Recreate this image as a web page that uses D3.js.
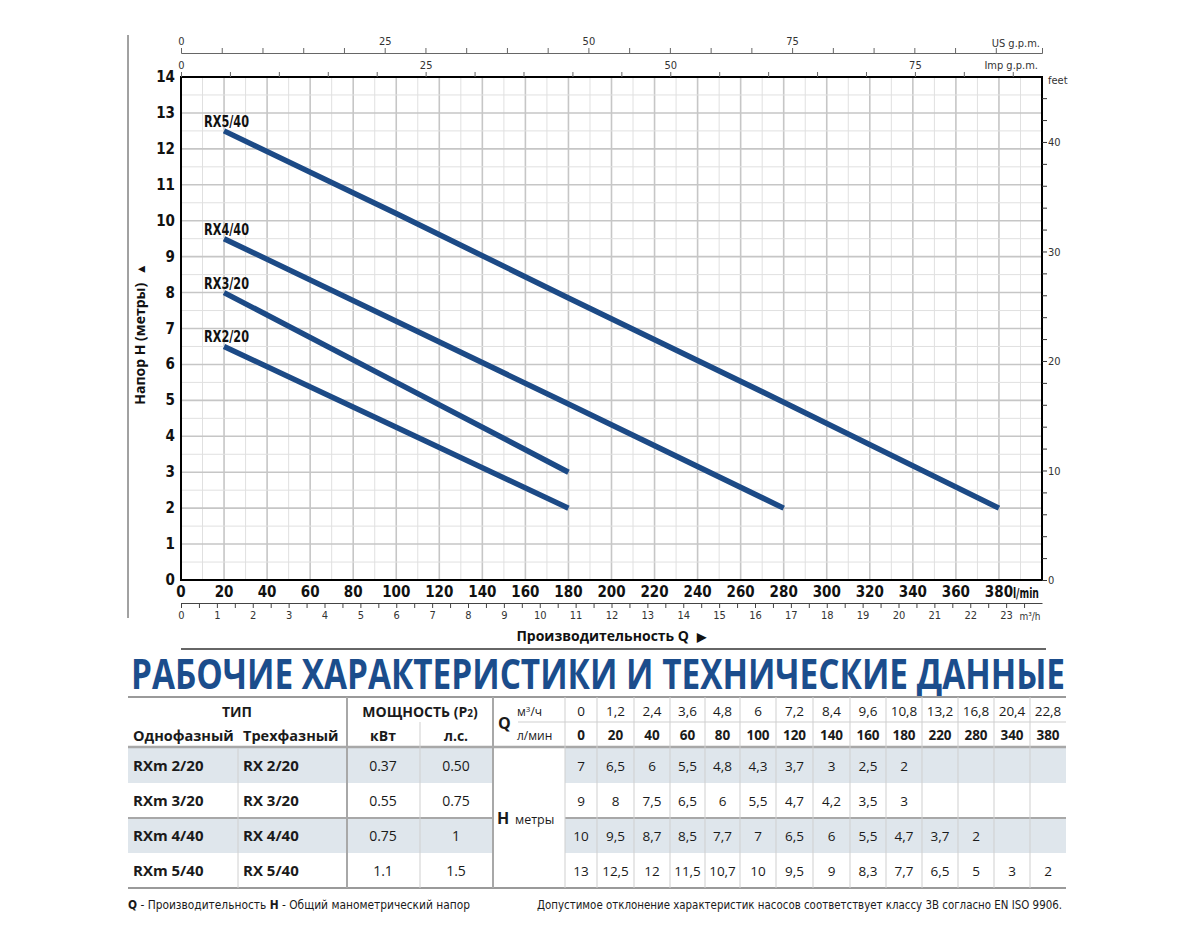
<!DOCTYPE html>
<html><head><meta charset="utf-8">
<script src="https://cdn.jsdelivr.net/npm/d3@7"></script>
<style>
body{margin:0;background:#fff;}
svg{display:block;}
</style></head>
<body>
<script>
// ---------- DATA ----------
// table
const qLmin = [0,20,40,60,80,100,120,140,160,180,220,280,340,380];
const qM3 = ["0","1,2","2,4","3,6","4,8","6","7,2","8,4","9,6","10,8","13,2","16,8","20,4","22,8"];
const models = ["RX2/20","RX3/20","RX4/40","RX5/40"];
const singlePhase = ["RXm 2/20","RXm 3/20","RXm 4/40","RXm 5/40"];
const threePhase = ["RX 2/20","RX 3/20","RX 4/40","RX 5/40"];
const powerKw = ["0.37","0.55","0.75","1.1"];
const powerHp = ["0.50","0.75","1","1.5"];
const headRX2_20 = [7,6.5,6,5.5,4.8,4.3,3.7,3,2.5,2,null,null,null,null];
const headRX3_20 = [9,8,7.5,6.5,6,5.5,4.7,4.2,3.5,3,null,null,null,null];
const headRX4_40 = [10,9.5,8.7,8.5,7.7,7,6.5,6,5.5,4.7,3.7,2,null,null];
const headRX5_40 = [13,12.5,12,11.5,10.7,10,9.5,9,8.3,7.7,6.5,5,3,2];
const tableHeads = [headRX2_20, headRX3_20, headRX4_40, headRX5_40];
// curves (Q l/min, H m)
const curveQ_RX2_20 = [20,100,180];
const curveH_RX2_20 = [6.5,4.25,2];
const curveQ_RX3_20 = [20,100,180];
const curveH_RX3_20 = [8,5.5,3];
const curveQ_RX4_40 = [20,100,180,280];
const curveH_RX4_40 = [9.5,7.2,4.9,2];
const curveQ_RX5_40 = [20,100,180,280,380];
const curveH_RX5_40 = [12.5,10.2,7.85,4.95,2];
const curvesQ = [curveQ_RX2_20,curveQ_RX3_20,curveQ_RX4_40,curveQ_RX5_40];
const curvesH = [curveH_RX2_20,curveH_RX3_20,curveH_RX4_40,curveH_RX5_40];
// axis ticks
const yTicks = d3.range(0,15,1);
const xTicksLmin = d3.range(0,381,20);
const m3hTicks = d3.range(0,24,1);
const feetTicks = [0,10,20,30,40];
const usTickLabels = [0,25,50,75];
const impTickLabels = [0,25,50,75];

// ---------- LAYOUT ----------
const W=1200,H=950;
const L=181,R=1042,T=77,B=580;
const svg=d3.select("body").append("svg").attr("width",W).attr("height",H);
const x=d3.scaleLinear().domain([0,400]).range([L,R]);
const y=d3.scaleLinear().domain([0,14]).range([B,T]);
const NAR='"Liberation Sans Narrow","Arial Narrow","DejaVu Sans Condensed",sans-serif';
const OS='"Open Sans","Noto Sans",sans-serif';

// decorative left rule
svg.append("line").attr("x1",128).attr("x2",128).attr("y1",35).attr("y2",618).attr("stroke","#444").attr("stroke-width",1);

// grid
const g=svg.append("g");
d3.range(10,400,10).forEach(v=>{
  g.append("line").attr("x1",x(v)).attr("x2",x(v)).attr("y1",T).attr("y2",B)
   .attr("stroke",v%20===0?"#c6c6c6":"#e0e0e0").attr("stroke-width",v%20===0?1.6:1);
});
d3.range(0.5,14,0.5).forEach(v=>{
  const major=Math.abs(v-Math.round(v))<1e-9;
  g.append("line").attr("x1",L).attr("x2",R).attr("y1",y(v)).attr("y2",y(v))
   .attr("stroke",major?"#c6c6c6":"#e0e0e0").attr("stroke-width",major?1.6:1);
});

// curves
const line=d3.line().x(d=>x(d.q)).y(d=>y(d.h));
curvesQ.forEach((qs,i)=>{
  const pts=qs.map((q,j)=>({q:q,h:curvesH[i][j]}));
  svg.append("path").datum(pts).attr("d",line).attr("fill","none")
    .attr("stroke","#1c4a86").attr("stroke-width",5.5);
  svg.append("text").attr("x",x(pts[0].q)-20).attr("y",y(pts[0].h)-4)
    .attr("font-family",NAR).attr("font-weight","bold").attr("font-size",15).attr("fill","#111")
    .attr("textLength",45).attr("lengthAdjust","spacingAndGlyphs")
    .text(models[i]);
});

// border
svg.append("rect").attr("x",L).attr("y",T).attr("width",R-L).attr("height",B-T)
  .attr("fill","none").attr("stroke","#000").attr("stroke-width",2);

// left y labels
yTicks.forEach(v=>{
  svg.append("text").attr("x",175).attr("y",y(v)+5).attr("text-anchor","end")
    .attr("font-family",NAR).attr("font-weight","bold").attr("font-size",15).attr("fill","#111").text(v);
});
// y title
svg.append("text").attr("transform","translate(145,334) rotate(-90)").attr("text-anchor","middle")
  .attr("font-family",OS).attr("font-weight","bold").attr("font-size",14).attr("fill","#111")
  .text("Напор H (метры) ").append("tspan").attr("font-size",12).attr("dx",4).text("▲");

// right feet axis
const yFeet=d3.scaleLinear().domain([0,14*3.28084]).range([B,T]);
const fAx=svg.append("g").attr("transform",`translate(${R},0)`)
  .call(d3.axisRight(yFeet).tickValues(d3.range(0,46,2)).tickSize(5)
    .tickFormat(d=>feetTicks.includes(d)?d:""));
fAx.select(".domain").remove();
fAx.selectAll("line").attr("stroke","#333");
fAx.selectAll("text").attr("font-family",NAR).attr("font-size",11).attr("fill","#333").attr("x",6);
svg.append("text").attr("x",1048).attr("y",84).attr("font-family",NAR).attr("font-size",11).attr("fill","#333").text("feet");

// bottom l/min labels
xTicksLmin.forEach(v=>{
  svg.append("text").attr("x",x(v)).attr("y",597).attr("text-anchor","middle")
    .attr("font-family",NAR).attr("font-weight","bold").attr("font-size",15).attr("fill","#111").text(v);
});
svg.append("text").attr("x",x(380)+14).attr("y",598)
  .attr("font-family",NAR).attr("font-weight","bold").attr("font-size",14).attr("fill","#111")
  .attr("textLength",26).attr("lengthAdjust","spacingAndGlyphs").text("l/min");

// m3/h axis
const xM3=d3.scaleLinear().domain([0,400*0.06]).range([L,R]);
const mAx=svg.append("g").attr("transform","translate(0,603)")
  .call(d3.axisBottom(xM3).tickValues(d3.range(0,24,0.5)).tickSize(5).tickSizeOuter(0)
    .tickFormat(d=>Number.isInteger(d)&&m3hTicks.includes(d)?d:""));
mAx.select(".domain").attr("stroke","#444");
mAx.selectAll("line").attr("stroke","#444");
mAx.selectAll("text").attr("font-family",NAR).attr("font-size",11).attr("fill","#333");
svg.append("text").attr("x",1030).attr("y",620).attr("text-anchor","middle")
  .attr("font-family",NAR).attr("font-size",10).attr("fill","#333").text("m³/h");

// top US g.p.m. axis
const xUS=d3.scaleLinear().domain([0,400/3.78541]).range([L,R]);
const uAx=svg.append("g").attr("transform","translate(0,53)")
  .call(d3.axisTop(xUS).tickValues(d3.range(0,101,5)).tickSize(5).tickSizeOuter(5)
    .tickFormat(d=>usTickLabels.includes(d)?d:""));
uAx.select(".domain").attr("stroke","#666");
uAx.selectAll("line").attr("stroke","#666");
uAx.selectAll("text").attr("font-family",NAR).attr("font-size",11).attr("fill","#333");
svg.append("text").attr("x",1040).attr("y",47).attr("text-anchor","end")
  .attr("font-family",NAR).attr("font-size",11).attr("fill","#333").text("US g.p.m.");

// top Imp g.p.m. axis
const xImp=d3.scaleLinear().domain([0,400/4.54609]).range([L,R]);
const iAx=svg.append("g").attr("transform",`translate(0,${T})`)
  .call(d3.axisTop(xImp).tickValues(d3.range(0,86,5)).tickSize(5)
    .tickFormat(d=>impTickLabels.includes(d)?d:""));
iAx.select(".domain").remove();
iAx.selectAll("line").attr("stroke","#666");
iAx.selectAll("text").attr("font-family",NAR).attr("font-size",11).attr("fill","#333");
svg.append("text").attr("x",1038).attr("y",69).attr("text-anchor","end")
  .attr("font-family",NAR).attr("font-size",11).attr("fill","#333").text("Imp g.p.m.");

// x title
svg.append("text").attr("x",611).attr("y",641).attr("text-anchor","middle")
  .attr("font-family",OS).attr("font-weight","bold").attr("font-size",14).attr("fill","#111")
  .text("Производительность Q ").append("tspan").attr("font-size",12).attr("dx",4).text("▶");
svg.append("line").attr("x1",181).attr("x2",1046).attr("y1",649).attr("y2",649).attr("stroke","#333").attr("stroke-width",1.5);

// big title
svg.append("text").attr("x",131).attr("y",689).attr("textLength",934).attr("lengthAdjust","spacingAndGlyphs")
  .attr("font-family",OS).attr("font-weight","bold").attr("font-size",42).attr("fill","#1b4d8c")
  .text("РАБОЧИЕ ХАРАКТЕРИСТИКИ И ТЕХНИЧЕСКИЕ ДАННЫЕ");

// ---------- TABLE ----------
const tL=128,tR=1066;
const colEdges=[565,597,634,670,705,740,776,813,850,886,922,958,994,1030,1066];
const rowTops=[748,783,818,853,888];
const tb=svg.append("g");
[0,2].forEach(r=>{
  tb.append("rect").attr("x",tL).attr("y",rowTops[r]).attr("width",493-tL).attr("height",35).attr("fill","#dfe6ec");
  tb.append("rect").attr("x",565).attr("y",rowTops[r]).attr("width",tR-565).attr("height",35).attr("fill","#dfe6ec");
});
function hl(x1,x2,yy,c,w){tb.append("line").attr("x1",x1).attr("x2",x2).attr("y1",yy).attr("y2",yy).attr("stroke",c).attr("stroke-width",w);}
function vl(xx,y1,y2,c,w){tb.append("line").attr("x1",xx).attr("x2",xx).attr("y1",y1).attr("y2",y2).attr("stroke",c).attr("stroke-width",w);}
hl(tL,tR,697,"#9a9a9a",2);
hl(tL,tR,747,"#a8a8a8",2.5);
hl(tL,tR,888,"#9a9a9a",2);
hl(tL,493,818,"#a8a8a8",2);
hl(565,tR,818,"#a8a8a8",2);
hl(518,tR,722,"#cfcfcf",1);
vl(238,748,888,"#d0d0d0",1);
vl(347,697,888,"#a8a8a8",2);
vl(420,722,888,"#cfcfcf",1);
vl(493,697,888,"#a8a8a8",2);
colEdges.slice(0,-1).forEach(e=>vl(e,697,888,"#cfcfcf",1));

function tx(xx,yy,s,opt){
  return tb.append("text").attr("x",xx).attr("y",yy).attr("font-family",OS)
    .attr("font-size",opt.size||13).attr("fill","#1a1a1a")
    .attr("text-anchor",opt.anchor||"middle").attr("font-weight",opt.bold?"bold":"normal").text(s);
}
const pw=tx(420,717,"МОЩНОСТЬ (P",{bold:true,size:14});
pw.append("tspan").attr("font-size",10).text("2");
pw.append("tspan").text(")");
tx(237,717,"ТИП",{bold:true,size:14});
tx(133,741,"Однофазный",{bold:true,size:14.5,anchor:"start"});
tx(243,741,"Трехфазный",{bold:true,size:14.5,anchor:"start"});
tx(383,741,"кВт",{bold:true,size:14});
tx(456,741,"л.с.",{bold:true,size:14});
tx(498,729,"Q",{bold:true,size:16,anchor:"start"});
const m3=tx(517,716,"м",{size:12,anchor:"start"});
m3.append("tspan").attr("dy",-4).attr("font-size",8).text("3");
m3.append("tspan").attr("dy",4).text("/ч");
tx(517,740,"л/мин",{size:12,anchor:"start"});
qM3.forEach((s,i)=>{
  const cx=(colEdges[i]+colEdges[i+1])/2;
  tx(cx,716,s,{size:13.5});
  tx(cx,740,qLmin[i],{bold:true,size:13.5});
});
tx(497,824,"H",{bold:true,size:16,anchor:"start"});
tx(515,824,"метры",{size:12.5,anchor:"start"});
singlePhase.forEach((s,r)=>{
  const yy=rowTops[r]+23;
  tx(133,yy,s,{bold:true,size:15,anchor:"start"});
  tx(243,yy,threePhase[r],{bold:true,size:15,anchor:"start"});
  tx(383,yy,powerKw[r],{size:14});
  tx(456,yy,powerHp[r],{size:14});
  tableHeads[r].forEach((h,i)=>{
    if(h===null) return;
    const cx=(colEdges[i]+colEdges[i+1])/2;
    tx(cx,yy,String(h).replace(".",","),{size:13.5});
  });
});

// footer
const ft=svg.append("text").attr("x",128).attr("y",909).attr("font-family",NAR).attr("font-size",12).attr("fill","#1a1a1a")
  .attr("textLength",342).attr("lengthAdjust","spacingAndGlyphs");
ft.append("tspan").attr("font-weight","bold").text("Q");
ft.append("tspan").text(" - Производительность  ");
ft.append("tspan").attr("font-weight","bold").text("H");
ft.append("tspan").text(" - Общий манометрический напор");
svg.append("text").attr("x",537).attr("y",909).attr("font-family",NAR).attr("font-size",12).attr("fill","#1a1a1a")
  .attr("textLength",525).attr("lengthAdjust","spacingAndGlyphs")
  .text("Допустимое отклонение характеристик насосов соответствует классу 3B согласно EN ISO 9906.");
</script>
</body></html>
